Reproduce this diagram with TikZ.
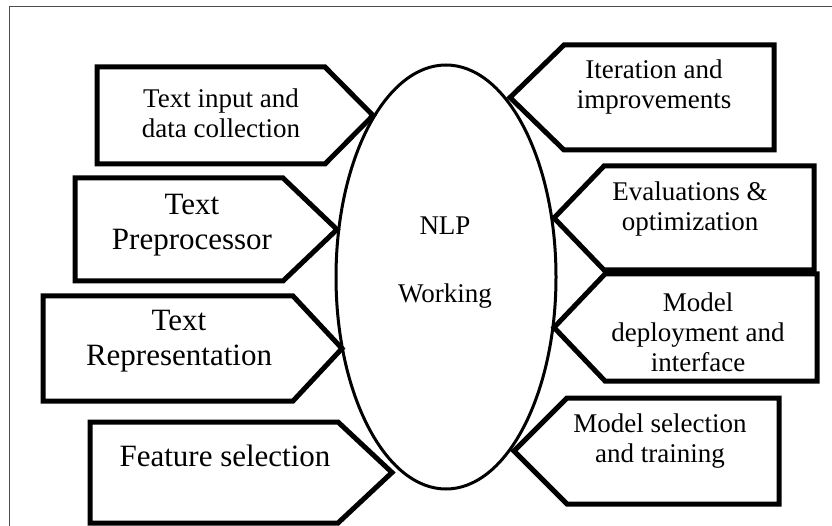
\documentclass[tikz,border=0pt]{standalone}
\usepackage{fontspec}
\setmainfont{Liberation Serif}
\usetikzlibrary{shapes.geometric}

\begin{document}
\begin{tikzpicture}[x=1pt, y=-1pt,
        stage/.style={draw, line width=5pt},
        txt/.style={align=center, font=\fontsize{27}{30}\selectfont},
        bigtxt/.style={align=center, font=\fontsize{31}{35}\selectfont}]
        \clip (0,0) rectangle (832,526);
        \draw[gray!60!black, line width=1pt] (9,7) rectangle (870,570);
        \node[ellipse, draw, line width=3pt, minimum width=220pt, minimum height=424pt] (core) at (446,277) {};
        \node[txt] (nlp) at (445,226) {NLP};
        \node[txt] (working) at (445,296) {Working};
        % left side
        \draw[stage] (97,67) -- (325,67) -- (373,115.5) -- (325,164) -- (97,164) -- cycle;
        \node[txt] (input) at (221,113) {Text input and\\data collection};
        \draw[stage] (75,178) -- (283,178) -- (337,229.5) -- (283,281) -- (75,281) -- cycle;
        \node[bigtxt] (prep) at (192,225) {Text\\Preprocessor};
        \draw[stage] (43,296) -- (293,296) -- (342,348.5) -- (293,401) -- (43,401) -- cycle;
        \node[bigtxt] (repr) at (179,341) {Text\\Representation};
        \draw[stage] (90,422) -- (338,422) -- (392,472.5) -- (338,523) -- (90,523) -- cycle;
        \node[bigtxt] (feat) at (225,456) {Feature selection};
        % right side
        \draw[stage] (774,45) -- (564,45) -- (510,97.5) -- (564,150) -- (774,150) -- cycle;
        \node[txt] (iter) at (654,87) {Iteration and\\improvements};
        \draw[stage] (814,166) -- (604,166) -- (554,218) -- (604,270) -- (814,270) -- cycle;
        \node[txt] (eval) at (690,209) {Evaluations \&\\optimization};
        \draw[stage] (817,274) -- (605,274) -- (554,327.5) -- (605,381) -- (817,381) -- cycle;
        \node[txt] (deploy) at (698,332) {Model\\deployment and\\interface};
        \draw[stage] (779,398) -- (567,398) -- (514,451) -- (567,504) -- (779,504) -- cycle;
        \node[txt] (train) at (660,441) {Model selection\\and training};
    \end{tikzpicture}
\end{document}
